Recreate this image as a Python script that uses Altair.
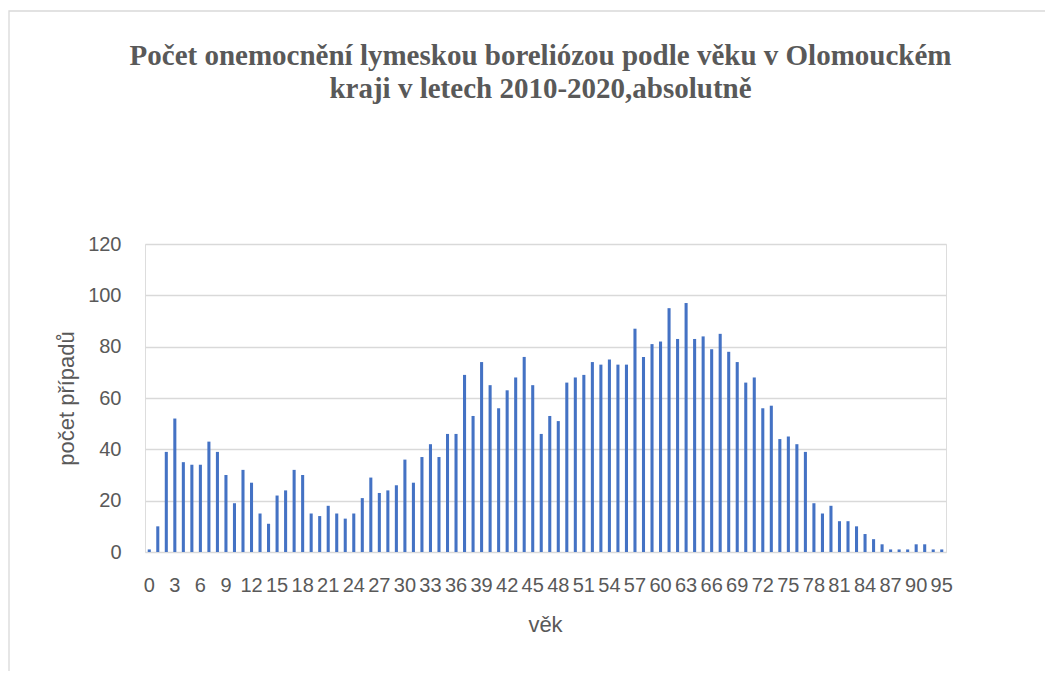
import altair as alt
import pandas as pd

ages = [str(a) for a in range(0, 91)] + ["91", "92", "95"]
cases = [1, 10, 39, 52, 35, 34, 34, 43, 39, 30,
         19, 32, 27, 15, 11, 22, 24, 32, 30, 15,
         14, 18, 15, 13, 15, 21, 29, 23, 24, 26,
         36, 27, 37, 42, 37, 46, 46, 69, 53, 74,
         65, 56, 63, 68, 76, 65, 46, 53, 51, 66,
         68, 69, 74, 73, 75, 73, 73, 87, 76, 81,
         82, 95, 83, 97, 83, 84, 79, 85, 78, 74,
         66, 68, 56, 57, 44, 45, 42, 39, 19, 15,
         18, 12, 12, 10, 7, 5, 3, 1, 1, 1,
         3, 3, 1, 1]
tick_labels = [ages[i] for i in range(0, len(ages), 3)]
y_ticks = [0, 20, 40, 60, 80, 100, 120]

df = pd.DataFrame({"vek": ages, "pocet": cases})

grey = "#595959"
sans = "Liberation Sans"

bars = alt.Chart(df).mark_bar(color="#4472C4").encode(
    x=alt.X("vek:N", sort=ages,
            scale=alt.Scale(domain=ages, paddingInner=0.64, paddingOuter=0.32),
            axis=alt.Axis(title="věk", values=tick_labels, labelAngle=0,
                          labelOverlap=False, ticks=False, domain=False,
                          grid=False, labelFont=sans, labelFontSize=20,
                          labelColor=grey, labelBaseline="alphabetic",
                          labelPadding=39,
                          titleFont=sans, titleFontSize=22, titleColor=grey,
                          titleFontWeight="normal", titleX=400, titleY=79,
                          titleBaseline="alphabetic", titleAlign="center")),
    y=alt.Y("pocet:Q", scale=alt.Scale(domain=[0, 120], nice=False),
            axis=alt.Axis(title="počet případů", values=y_ticks, ticks=False,
                          domain=False, grid=True, gridColor="#D9D9D9",
                          gridWidth=1.3, labelFont=sans, labelFontSize=20,
                          labelColor=grey, labelPadding=24,
                          titleFont=sans, titleFontSize=22, titleColor=grey,
                          titleFontWeight="normal", titleAngle=-90,
                          titleX=-72, titleY=154, titleBaseline="alphabetic",
                          titleAlign="center")),
)

frame = alt.Chart(alt.Data(values=[{"f": 1}])).mark_rect(
    filled=False, stroke="#D9D9D9", strokeWidth=1.3
).encode(
    x=alt.value(-136), x2=alt.value(1100),
    y=alt.value(-233), y2=alt.value(600),
)

chart = alt.layer(bars, frame).properties(
    width=801, height=308,
    title=alt.TitleParams(
        text=["Počet onemocnění lymeskou boreliózou podle věku v Olomouckém",
              "kraji v letech 2010-2020,absolutně"],
        font="Liberation Serif", fontSize=29, fontWeight="bold", color=grey,
        anchor="middle", lineHeight=33, offset=0, dy=94, dx=-5),
    autosize=alt.AutoSizeParams(type="none"),
    padding={"left": 137, "top": 236, "right": 99, "bottom": 119},
).configure_view(strokeWidth=0).configure(background="white")

chart.save("out.html", embed_options={"renderer": "svg", "actions": False})
